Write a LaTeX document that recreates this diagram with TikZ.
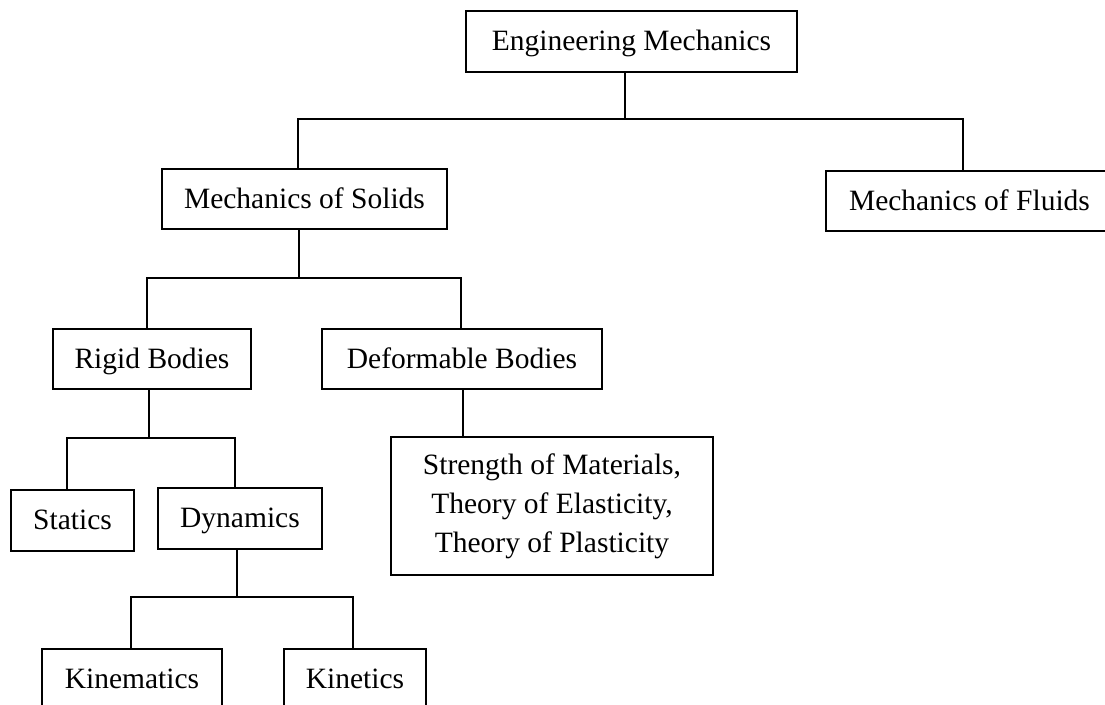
\documentclass[tikz,border=0pt]{standalone}
\usepackage{fontspec}
\setmainfont{Liberation Serif}
\begin{document}
\begin{tikzpicture}[x=1pt,y=-1pt,
  box/.style={draw=black, line width=1.6pt, rectangle, inner sep=0pt,
    font=\fontsize{29.5}{39}\selectfont, text=black, align=center},
  one/.style={text height=20pt, text depth=2pt},
  conn/.style={draw=black, line width=1.6pt}]
\useasboundingbox (0,0) rectangle (1105,704);
\clip (0,0) rectangle (1105,704);
\fill[white] (0,0) rectangle (1105,704);
% nodes
\node[box, one, minimum width=331pt, minimum height=61pt] (em) at (631.5,41.5) {Engineering Mechanics};
\node[box, one, minimum width=285pt, minimum height=60pt] (mos) at (304.5,199) {Mechanics of Solids};
\node[box, one, minimum width=287pt, minimum height=60pt] (mof) at (969.5,201) {Mechanics of Fluids};
\node[box, one, minimum width=198pt, minimum height=60pt] (rb) at (152,359) {Rigid Bodies};
\node[box, one, minimum width=280pt, minimum height=60pt] (db) at (462,359) {Deformable Bodies};
\node[box, one, minimum width=123pt, minimum height=61pt] (st) at (72.5,520.5) {Statics};
\node[box, one, minimum width=164pt, minimum height=61pt] (dy) at (240,518.5) {Dynamics};
\node[box, minimum width=322pt, minimum height=138pt] (som) at (552,506) {Strength of Materials,\\Theory of Elasticity,\\Theory of Plasticity};
\node[box, one, minimum width=180pt, minimum height=60pt] (kin) at (132,679) {Kinematics};
\node[box, one, minimum width=142pt, minimum height=60pt] (kt) at (355,679) {Kinetics};
% junction coordinates
\coordinate (j1) at (625,119);
\coordinate (j1l) at (298,119);
\coordinate (j1r) at (963,119);
\coordinate (j2) at (299,278);
\coordinate (j2l) at (147,278);
\coordinate (j2r) at (461,278);
\coordinate (j3) at (149,438);
\coordinate (j3l) at (67,438);
\coordinate (j3r) at (235,438);
\coordinate (j4) at (237,597);
\coordinate (j4l) at (131,597);
\coordinate (j4r) at (353,597);
\coordinate (j5) at (463,437);
% connectors
\draw[conn] (em.south -| j1) -- (j1);
\draw[conn] (mos.north -| j1l) -- (j1l) -- (j1r) -- (mof.north -| j1r);
\draw[conn] (mos.south -| j2) -- (j2);
\draw[conn] (rb.north -| j2l) -- (j2l) -- (j2r) -- (db.north -| j2r);
\draw[conn] (rb.south -| j3) -- (j3);
\draw[conn] (st.north -| j3l) -- (j3l) -- (j3r) -- (dy.north -| j3r);
\draw[conn] (dy.south -| j4) -- (j4);
\draw[conn] (kin.north -| j4l) -- (j4l) -- (j4r) -- (kt.north -| j4r);
\draw[conn] (db.south -| j5) -- (som.north -| j5);
\end{tikzpicture}
\end{document}
